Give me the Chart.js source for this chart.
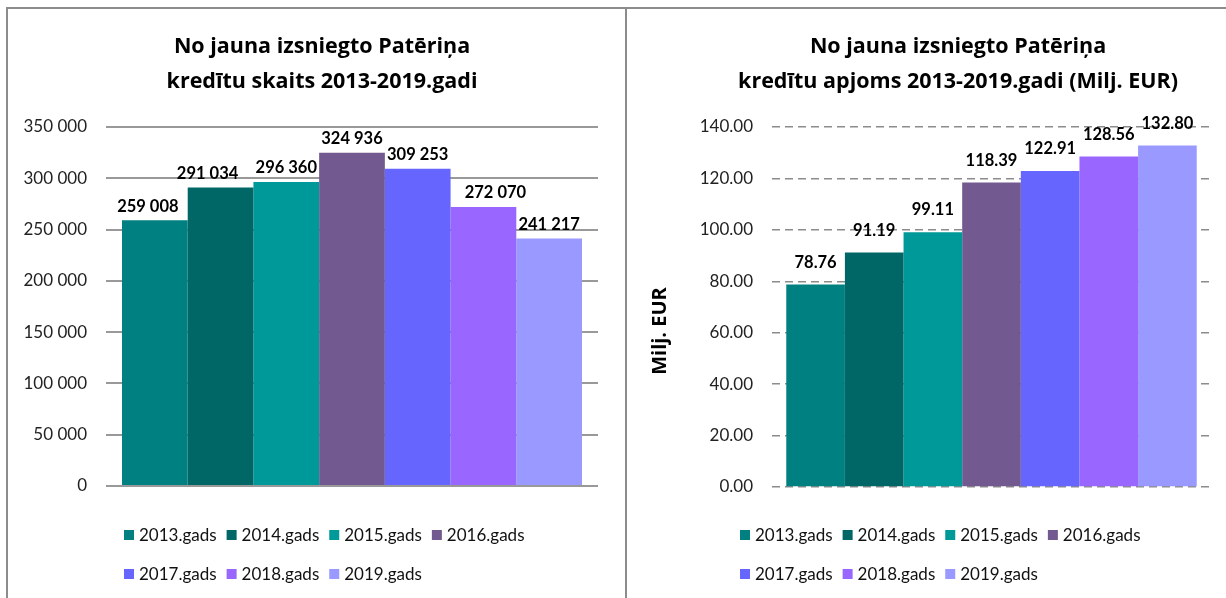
<!DOCTYPE html>
<html>
<head>
<meta charset="utf-8">
<script src="https://cdn.jsdelivr.net/npm/chart.js@4.4.1/dist/chart.umd.min.js"></script>
<style>
  body { margin: 0; background: #fff; width: 1226px; height: 598px; overflow: hidden; position: relative; }
  .frame { position: absolute; top: 7px; left: 6px; right: 0; bottom: 0; border-top: 2px solid #8c8c8c; border-left: 2px solid #8c8c8c; }
  .divider { position: absolute; top: 7px; left: 625px; width: 2px; bottom: 0; background: #8c8c8c; }
  #countChart { position: absolute; left: 0; top: 0; }
  #amountChart { position: absolute; left: 628px; top: 0; }
</style>
</head>
<body>
<div class="frame"></div>
<div class="divider"></div>
<canvas id="countChart" width="625" height="598"></canvas>
<canvas id="amountChart" width="598" height="598"></canvas>
<script>
// data
const years = ['2013.gads', '2014.gads', '2015.gads', '2016.gads', '2017.gads', '2018.gads', '2019.gads'];
const loanCounts = [259008, 291034, 296360, 324936, 309253, 272070, 241217];
const loanAmounts = [78.76, 91.19, 99.11, 118.39, 122.91, 128.56, 132.80];
const yearColors = ['#008080', '#006666', '#009999', '#725990', '#6666ff', '#9966ff', '#9999ff'];

const countTitle = ['No jauna izsniegto Patēriņa', 'kredītu skaits 2013-2019.gadi'];
const amountTitle = ['No jauna izsniegto Patēriņa', 'kredītu apjoms 2013-2019.gadi (Milj. EUR)'];

const FONT = 'Lato, "Open Sans", sans-serif';
const HEAD_FONT = '"Open Sans", Lato, sans-serif';

function spaced(v) {
  return String(v).replace(/\B(?=(\d{3})+(?!\d))/g, ' ');
}

// titles, value labels, legend and axis title drawn on the canvas
const decor = {
  id: 'decor',
  afterDatasetsDraw(chart, args, opts) {
    const ctx = chart.ctx;
    ctx.save();
    ctx.font = 'bold 16.5px ' + FONT;
    ctx.fillStyle = '#000';
    ctx.textAlign = 'center';
    ctx.textBaseline = 'middle';
    chart.data.datasets.forEach((ds, i) => {
      const bar = chart.getDatasetMeta(i).data[0];
      const shift = (opts.labelShift || [])[i] || 0;
      ctx.fillText(opts.fmt(ds.data[0]), bar.x + shift, bar.y - opts.labelGap);
    });
    ctx.restore();
  },
  afterDraw(chart, args, opts) {
    const ctx = chart.ctx;
    ctx.save();
    // title
    ctx.font = 'bold 21.5px ' + HEAD_FONT;
    ctx.fillStyle = '#000';
    ctx.textAlign = 'center';
    ctx.textBaseline = 'middle';
    opts.title.forEach((line, i) => ctx.fillText(line, opts.titleX, 47 + i * 35));

    // axis title
    if (opts.axisTitle) {
      ctx.save();
      ctx.translate(opts.axisTitleX, 331);
      ctx.rotate(-Math.PI / 2);
      ctx.font = 'bold 20px ' + HEAD_FONT;
      ctx.fillText(opts.axisTitle, 0, 0);
      ctx.restore();
    }

    // legend, 4 items then 3
    ctx.font = '17px ' + FONT;
    ctx.textAlign = 'left';
    let x = opts.legendX;
    let y = 535;
    chart.data.datasets.forEach((ds, i) => {
      if (i === 4) { x = opts.legendX; y = 574; }
      ctx.fillStyle = ds.backgroundColor;
      ctx.fillRect(x, y - 5, 10, 10);
      ctx.fillStyle = '#111';
      ctx.fillText(ds.label, x + 15, y + 1);
      x += 15 + ctx.measureText(ds.label).width + 10;
    });
    ctx.restore();
  }
};

function makeDatasets(values) {
  return years.map((y, i) => ({
    label: y,
    data: [values[i]],
    backgroundColor: yearColors[i],
    borderWidth: 0,
    categoryPercentage: 0.935,
    barPercentage: 1
  }));
}

new Chart(document.getElementById('countChart'), {
  type: 'bar',
  data: { labels: [''], datasets: makeDatasets(loanCounts) },
  options: {
    responsive: false,
    animation: false,
    layout: { padding: { left: 0, right: 27, top: 127, bottom: 112 } },
    plugins: {
      legend: { display: false },
      tooltip: { enabled: false },
      decor: {
        title: countTitle,
        titleX: 322,
        legendX: 124,
        labelGap: 14,
        labelShift: [-7, -13, 0, 0, 0, 12, 0],
        fmt: spaced
      }
    },
    scales: {
      x: { display: false },
      y: {
        min: 0,
        max: 350000,
        afterFit(scale) { scale.width = 106; },
        ticks: { stepSize: 50000, padding: 19, color: '#222', font: { family: FONT, size: 17 }, callback: v => spaced(v) },
        grid: { color: '#999', lineWidth: 2, drawTicks: false },
        border: { display: false }
      }
    }
  },
  plugins: [decor]
});

new Chart(document.getElementById('amountChart'), {
  type: 'bar',
  data: { labels: [''], datasets: makeDatasets(loanAmounts) },
  options: {
    responsive: false,
    animation: false,
    layout: { padding: { left: 0, right: 15, top: 127, bottom: 111 } },
    plugins: {
      legend: { display: false },
      tooltip: { enabled: false },
      decor: {
        title: amountTitle,
        titleX: 330,
        legendX: 112,
        labelGap: 22,
        axisTitle: 'Milj. EUR',
        axisTitleX: 32,
        fmt: v => v.toFixed(2)
      }
    },
    scales: {
      x: { display: false },
      y: {
        min: 0,
        max: 140,
        afterFit(scale) { scale.width = 144; },
        ticks: { stepSize: 20, padding: 19, color: '#222', font: { family: FONT, size: 17 }, callback: v => v.toFixed(2) },
        grid: { color: '#8c8c8c', lineWidth: 1.5, drawTicks: false },
        border: { display: false, dash: [8, 5] }
      }
    }
  },
  plugins: [decor]
});
</script>
</body>
</html>
